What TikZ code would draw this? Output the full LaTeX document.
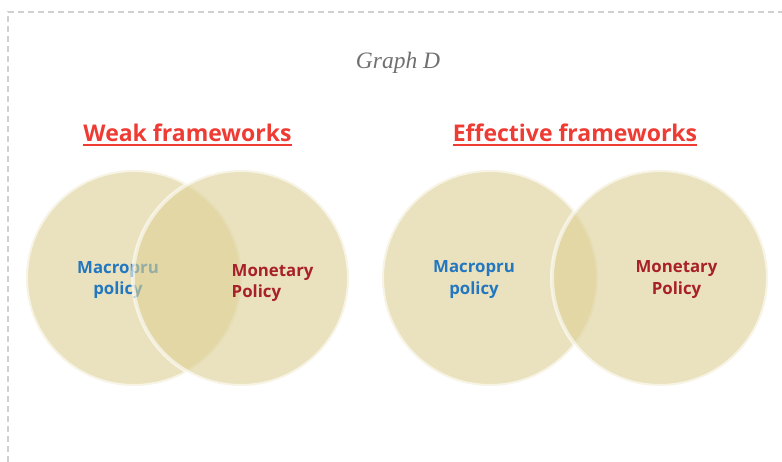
\documentclass[tikz,border=0pt]{standalone}
\usepackage{fontspec}
\setmainfont{Liberation Serif}
\newfontfamily\labelfont{Open Sans}
\definecolor{vennfill}{RGB}{221,208,150}
\definecolor{titlered}{RGB}{238,59,51}
\definecolor{prublue}{RGB}{34,119,192}
\definecolor{monred}{RGB}{168,32,42}
\definecolor{graphgray}{RGB}{112,112,112}
\definecolor{framegray}{RGB}{208,208,208}
\tikzset{
  venn/.style={circle, inner sep=0pt, minimum size=216pt, fill=vennfill, fill opacity=0.62,
    draw=white, draw opacity=0.6, line width=4pt},
  frametitle/.style={font=\labelfont\bfseries\fontsize{23}{27}\selectfont, text=titlered, inner sep=0pt, anchor=base},
  titleline/.style={draw=titlered, line width=1.6pt},
  prulabel/.style={font=\labelfont\bfseries\fontsize{16.8}{21.5}\selectfont, text=prublue, align=center, inner sep=0pt},
  monlabel/.style={font=\labelfont\bfseries\fontsize{16.8}{21.5}\selectfont, text=monred, inner sep=0pt},
  graphtitle/.style={font=\itshape\fontsize{23.5}{27}\selectfont, text=graphgray, inner sep=0pt},
  framebox/.style={draw=framegray, line width=1.2pt, dash pattern=on 6pt off 4pt}
}
\begin{document}
\begin{tikzpicture}[x=1pt,y=-1pt]
\useasboundingbox (0,0) rectangle (782,462);
\coordinate (fl) at (8,462);
\coordinate (fc) at (8,12);
\coordinate (fr) at (782,12);
\draw[framebox] (fl) -- (fc) -- (fr);
\node[graphtitle] (gd) at (398,63) {Graph D};
\node[frametitle] (tw) at (187.5,141.5) {Weak frameworks};
\node[frametitle] (te) at (575,141.5) {Effective frameworks};
\draw[titleline] ([yshift=-3.5pt]tw.base west) -- ([yshift=-3.5pt]tw.base east);
\draw[titleline] ([yshift=-3.5pt]te.base west) -- ([yshift=-3.5pt]te.base east);
% weak frameworks
\node[venn] (wl) at (134,278) {};
\node[prulabel] (wlt) at (118,280) {Macropru\\policy};
\node[venn] (wr) at (241,278) {};
\node[monlabel, anchor=west, align=left] (wrt) at (231.5,283) {Monetary\\Policy};
% effective frameworks
\node[venn] (el) at (490,278) {};
\node[prulabel] (elt) at (474,279.5) {Macropru\\policy};
\node[venn] (er) at (660,278) {};
\node[monlabel, align=center] (ert) at (676.5,279.5) {Monetary\\Policy};
\end{tikzpicture}
\end{document}
